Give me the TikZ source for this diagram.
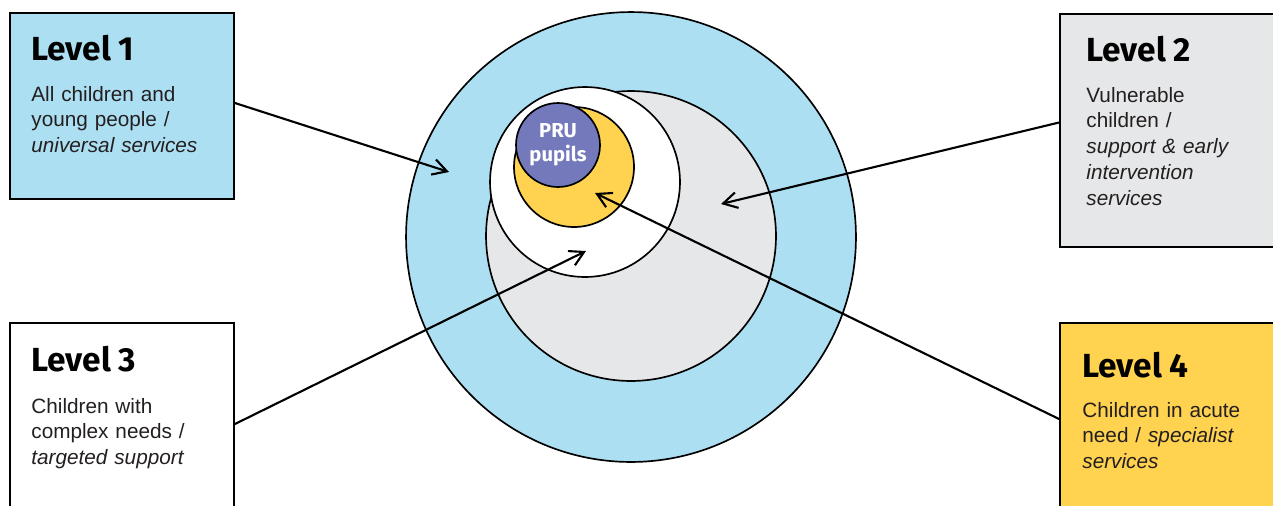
\documentclass[tikz,border=0pt]{standalone}
\usepackage{fontspec}
\setmainfont{Liberation Sans}
\newfontfamily\headfont{Fira Sans}
\usetikzlibrary{arrows.meta}

\definecolor{lvlblue}{HTML}{ADDFF2}
\definecolor{lvlgrey}{HTML}{E6E7E8}
\definecolor{lvlyellow}{HTML}{FFD24F}
\definecolor{prupurple}{HTML}{7479BC}
\definecolor{bodytext}{HTML}{231F20}

\tikzset{
    levelbox/.style={draw=black,line width=1.1pt,rectangle,inner sep=0pt},
    ring/.style={draw=black,line width=0.95pt,circle,inner sep=0pt},
    heading/.style={anchor=base west,inner sep=0pt,font=\headfont\bfseries\fontsize{19}{23}\selectfont},
    bodytxt/.style={anchor=base west,inner sep=0pt,align=left,text width=4cm,text=bodytext,
        font=\fontsize{11.8}{14.7}\selectfont},
    pointer/.style={line width=1.2pt,-{Straight Barb[length=8pt,width=9pt]}}
}

\begin{document}
\begin{tikzpicture}[x=0.02cm,y=-0.02cm]
    \useasboundingbox (0,0) rectangle (1273,505);
    \clip (0,0) rectangle (1273,505);

    % nested circles
    \node[ring,fill=lvlblue,minimum size=9cm] (outer) at (631,237) {};
    \node[ring,fill=lvlgrey,minimum size=5.8cm] (vuln) at (631,236) {};
    \node[ring,fill=white,minimum size=3.8cm] (complex) at (585,182) {};
    \node[ring,fill=lvlyellow,minimum size=2.4cm] (acute) at (574,167) {};
    \node[ring,fill=prupurple,minimum size=1.68cm,text=white,align=center,
        font=\headfont\bfseries\fontsize{11.5}{13.5}\selectfont] (pru) at (558,145) {PRU\\pupils};

    % level boxes
    \node[levelbox,fill=lvlblue,minimum width=4.48cm,minimum height=3.72cm] (l1) at (122,106) {};
    \node[levelbox,fill=lvlgrey,minimum width=4.8cm,minimum height=4.66cm] (l2) at (1180,130.5) {};
    \node[levelbox,fill=white,minimum width=4.48cm,minimum height=4.04cm] (l3) at (122,424) {};
    \node[levelbox,fill=lvlyellow,minimum width=4.8cm,minimum height=3.84cm] (l4) at (1180,419) {};

    \node[heading] (h1) at ([shift={(22,48)}]l1.north west) {Level 1};
    \node[bodytxt] (b1) at ([shift={(22,89)}]l1.north west)
        {All children and\\young people /\\\textit{universal services}};
    \node[heading] (h2) at ([shift={(27,48)}]l2.north west) {Level 2};
    \node[bodytxt] (b2) at ([shift={(27,89)}]l2.north west)
        {Vulnerable\\children /\\\textit{support \& early}\\\textit{intervention}\\\textit{services}};
    \node[heading] (h3) at ([shift={(22,49)}]l3.north west) {Level 3};
    \node[bodytxt] (b3) at ([shift={(22,91)}]l3.north west)
        {Children with\\complex needs /\\\textit{targeted support}};
    \node[heading] (h4) at ([shift={(23,55)}]l4.north west) {Level 4};
    \node[bodytxt] (b4) at ([shift={(23,95)}]l4.north west)
        {Children in acute\\need / \textit{specialist}\\\textit{services}};

    % arrow targets
    \coordinate (t1) at (449,172);
    \coordinate (t2) at (721,204);
    \coordinate (t3) at (586,251);
    \coordinate (t4) at (595,193);

    \draw[pointer] ([shift={(0,-3)}]l1.east) -- (t1);
    \draw[pointer] ([shift={(0,-8)}]l2.west) -- (t2);
    \draw[pointer] (l3.east) -- (t3);
    \draw[pointer] (l4.west) -- (t4);
\end{tikzpicture}
\end{document}
